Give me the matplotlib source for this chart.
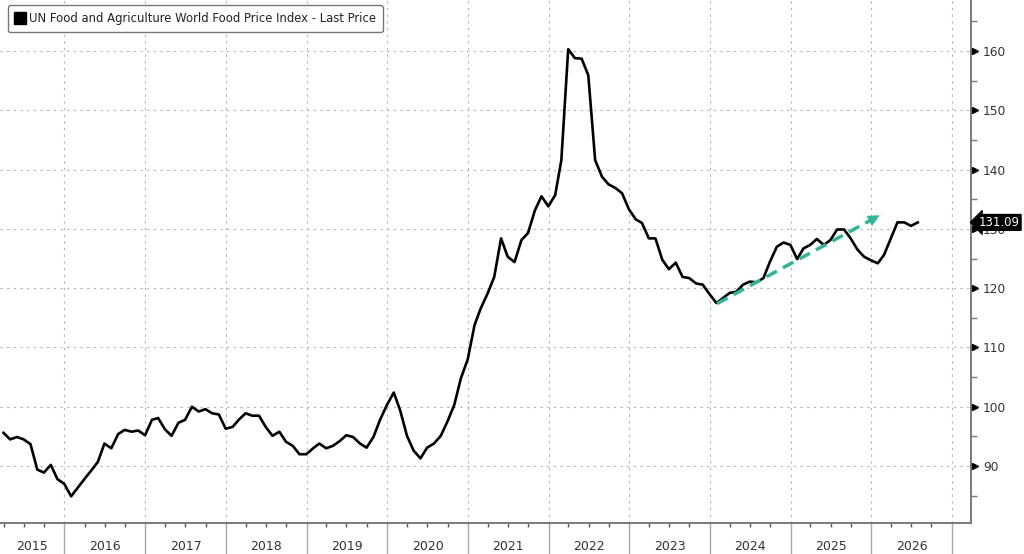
import pandas as pd
import matplotlib
matplotlib.use("Agg")
import matplotlib.pyplot as plt
import matplotlib.dates as mdates
import matplotlib.transforms as mtransforms
from matplotlib.lines import Line2D

# monthly FAO food price index, month-end values from Mar 2015
start_month = "2015-03-01"
values = [
    95.6, 94.5, 94.9, 94.5, 93.7, 89.4, 88.9, 90.2, 87.8, 87.0,
    84.9, 86.3, 87.8, 89.2, 90.7, 93.8, 93.0, 95.4, 96.1, 95.8,
    96.0, 95.2, 97.8, 98.1, 96.2, 95.1, 97.3, 97.8, 100.0, 99.2,
    99.6, 98.9, 98.7, 96.3, 96.6, 97.8, 98.9, 98.5, 98.5, 96.6,
    95.1, 95.8, 94.1, 93.4, 92.0, 92.0, 93.0, 93.8, 93.0, 93.4,
    94.2, 95.2, 94.9, 93.8, 93.1, 94.9, 97.8, 100.3, 102.4, 99.4,
    95.1, 92.6, 91.3, 93.1, 93.8, 95.1, 97.5, 100.3, 104.8, 108.0,
    113.8, 116.6, 119.1, 121.9, 128.4, 125.3, 124.4, 128.1, 129.3, 133.1,
    135.5, 133.8, 135.7, 141.6, 160.3, 158.8, 158.7, 155.9, 141.6, 138.8,
    137.5, 136.9, 136.0, 133.3, 131.6, 131.0, 128.4, 128.4, 124.8, 123.2,
    124.3, 121.9, 121.7, 120.8, 120.6, 119.0, 117.5, 118.3, 119.2, 119.4,
    120.6, 121.1, 121.0, 121.7, 124.5, 127.0, 127.7, 127.3, 124.9, 126.7,
    127.3, 128.3, 127.3, 128.1, 129.9, 129.9, 128.4, 126.5, 125.3, 124.7,
    124.2, 125.6, 128.4, 131.1, 131.1, 130.5, 131.09,
]
dates = pd.date_range(start_month, periods=len(values), freq="MS") + pd.offsets.MonthEnd(0)

legend_label = "UN Food and Agriculture World Food Price Index - Last Price"
year_labels = [str(y) for y in range(2015, 2027)]
y_ticks = [90, 100, 110, 120, 130, 140, 150, 160]

# hand drawn trend arrow
trend_dates = pd.to_datetime(["2024-02-03", "2026-02-19"])
trend_values = [117.4, 132.5]

x_min, x_max = pd.Timestamp("2015-03-15"), pd.Timestamp("2027-03-29")

fig = plt.figure(figsize=(10.24, 5.54), dpi=100)
ax = fig.add_axes([0.0, 31 / 554, 971 / 1024, 1 - 31 / 554])

ax.plot(dates, values, color="black", lw=1.9, zorder=3)

ax.set_xlim(x_min, x_max)
ax.set_ylim(80.4, 168.6)

# spines
for s in ["left", "top"]:
    ax.spines[s].set_visible(False)
for s in ["right", "bottom"]:
    ax.spines[s].set_color("#7a7a7a")
    ax.spines[s].set_linewidth(1.4)

# y axis on right
ax.yaxis.tick_right()
ax.set_yticks(y_ticks)
ax.set_yticks([y + 5 for y in [80] + y_ticks], minor=True)
ax.tick_params(axis="y", which="major", length=0, pad=8.5, labelsize=8.8, labelcolor="#333333")
ax.tick_params(axis="y", which="minor", length=4.5, width=1, color="#7a7a7a")
tri = mtransforms.blended_transform_factory(ax.transAxes, ax.transData)
ax.plot([1.0045] * len(y_ticks), y_ticks, transform=tri, ls="none", marker=">",
        ms=4.5, color="black", clip_on=False, zorder=5)

# x axis: year boundaries as long ticks, quarters as minor ticks
ax.xaxis.set_major_locator(mdates.YearLocator())
ax.xaxis.set_minor_locator(mdates.MonthLocator(bymonth=[4, 7, 10]))
ax.xaxis.set_major_formatter(plt.NullFormatter())
ax.tick_params(axis="x", which="major", length=23, width=1, color="#a8a8a8")
ax.tick_params(axis="x", which="minor", length=3, width=1, color="#555555")

xt = mtransforms.blended_transform_factory(ax.transData, ax.transAxes)
x_lo, x_hi = mdates.date2num(x_min), mdates.date2num(x_max)
for lab in year_labels:
    y = int(lab)
    a = max(mdates.date2num(pd.Timestamp(f"{y}-01-01")), x_lo)
    b = min(mdates.date2num(pd.Timestamp(f"{y + 1}-01-01")), x_hi)
    ax.text((a + b) / 2, -0.045, lab, transform=xt, ha="center", va="center",
            fontsize=9, color="#333333")

ax.grid(True, which="major", color="#b3b3b3", lw=0.8, ls=(0, (2, 4)))

# trend arrow
ax.plot(trend_dates, trend_values, color="#2fb597", lw=2.5, ls=(0, (3.4, 2.0)), zorder=4)
head_from = trend_dates[0] + (trend_dates[1] - trend_dates[0]) * 0.93
head_from_val = trend_values[0] + (trend_values[1] - trend_values[0]) * 0.93
ax.annotate("", xy=(trend_dates[1], trend_values[1]), xytext=(head_from, head_from_val),
            arrowprops=dict(arrowstyle="-|>", color="#2fb597", lw=0.5, mutation_scale=19),
            zorder=4)

# last price tag
ax.annotate(f"{values[-1]:.2f}", xy=(1, values[-1]), xycoords=tri,
            xytext=(5.5, 0), textcoords="offset points", ha="left", va="center",
            fontsize=8.4, color="white",
            bbox=dict(boxstyle="larrow,pad=0.12", fc="black", ec="black"),
            annotation_clip=False, zorder=6)

handle = Line2D([], [], ls="none", marker="s", ms=8.5, color="black")
leg = ax.legend([handle], [legend_label], loc="upper left", bbox_to_anchor=(0.008, 0.99),
                borderaxespad=0, fontsize=8.4, frameon=True, fancybox=True,
                handletextpad=0.3, handlelength=0.9, borderpad=0.6)
leg.get_frame().set_edgecolor("#555555")
leg.get_frame().set_linewidth(1.0)
for t in leg.get_texts():
    t.set_color("#222222")

fig.savefig("out.png", dpi=100, facecolor="white")
